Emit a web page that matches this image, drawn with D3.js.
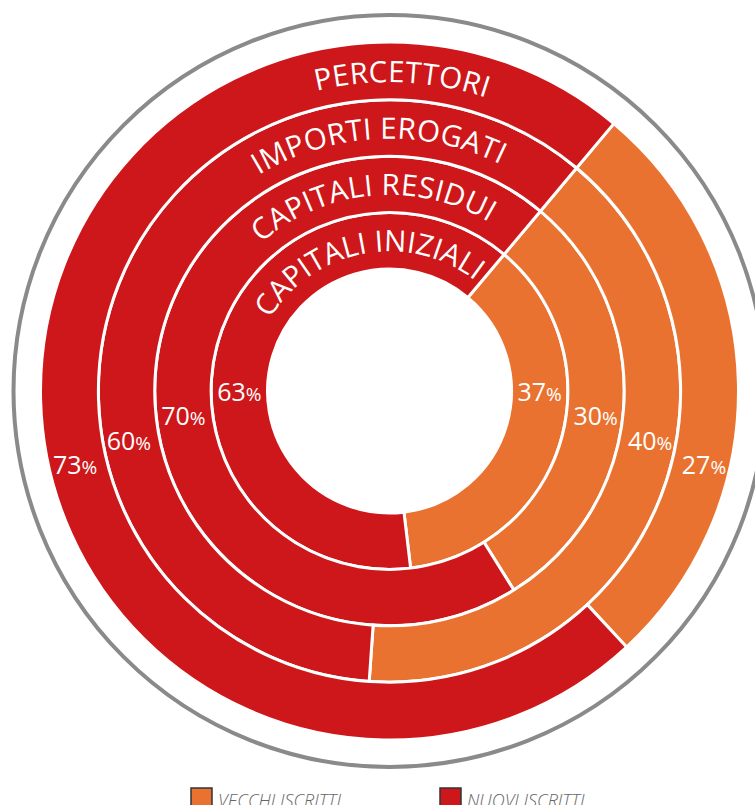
<!DOCTYPE html>
<html>
<head>
<meta charset="utf-8">
<script src="https://cdn.jsdelivr.net/npm/d3@7"></script>
<style>
  body { margin: 0; background: #fff; }
  svg { display: block; font-family: "Open Sans", sans-serif; }
</style>
</head>
<body>
<div id="chart"></div>
<script>
// Data, inner ring first
var rings = ["CAPITALI INIZIALI", "CAPITALI RESIDUI", "IMPORTI EROGATI", "PERCETTORI"];
var vecchi = [37, 30, 40, 27];
var nuovi = [63, 70, 60, 73];
var series = ["VECCHI ISCRITTI", "NUOVI ISCRITTI"];
var colors = ["#ea7230", "#cd171a"];

var width = 755, height = 805;
var cx = 389.5, cy = 391;

var svg = d3.select("#chart")
    .append("svg")
        .attr("width", width)
        .attr("height", height);

var g = svg.append("g")
    .attr("transform", "translate(" + cx + "," + cy + ")");

// radius scale: ring index -> inner radius
var r = d3.scaleLinear().domain([0, rings.length]).range([122, 347.5]);

// grey outer circle
g.append("circle")
    .attr("r", 376)
    .attr("fill", "none")
    .attr("stroke", "#8a8a8a")
    .attr("stroke-width", 4);

var pie = d3.pie()
    .sort(null)
    .startAngle(40 * Math.PI / 180)
    .endAngle(40 * Math.PI / 180 + 2 * Math.PI);

rings.forEach(function(name, i){
    var vals = [vecchi[i], nuovi[i]];
    var arc = d3.arc()
        .innerRadius(r(i))
        .outerRadius(i == rings.length - 1 ? r(i + 1) + 1.5 : r(i + 1));

    g.append("g").attr("class", "ring")
        .selectAll("path")
        .data(pie(vals))
        .enter()
        .append("path")
            .attr("d", arc)
            .attr("fill", (d, j) => colors[j])
            .attr("stroke", "#fff")
            .attr("stroke-width", 3);
});

// curved ring titles
var titleShift = [-10.5, -5.2, -2.5, 2.3];
var defs = svg.append("defs");
rings.forEach(function(name, i){
    var rb = (r(i) + r(i + 1)) / 2 - 10.5;
    defs.append("path")
        .attr("id", "tp" + i)
        .attr("d", "M" + (-rb) + ",0 A" + rb + "," + rb + " 0 0 1 " + rb + ",0");

    g.append("g")
        .attr("transform", "rotate(" + titleShift[i] + ")")
        .append("text")
            .attr("fill", "#fff")
            .attr("font-size", 29.5)
            .attr("font-weight", 500)
            .attr("letter-spacing", i == 0 ? 0 : 0.3)
            .attr("text-anchor", "middle")
        .append("textPath")
            .attr("href", "#tp" + i)
            .attr("startOffset", "50%")
            .text(name);
});

// percent labels
rings.forEach(function(name, i){
    var rm = (r(i) + r(i + 1)) / 2 + i * 1.5;
    var dy = 4 + i * 24.4;
    var dx = Math.sqrt(rm * rm - dy * dy);
    [[-dx, nuovi[i]], [dx, vecchi[i]]].forEach(function(p){
        var t = g.append("text")
            .attr("x", p[0])
            .attr("y", dy)
            .attr("dy", "0.36em")
            .attr("text-anchor", "middle")
            .attr("fill", "#fff");
        t.append("tspan").attr("font-size", 25).text(p[1]);
        t.append("tspan").attr("font-size", 19).text("%");
    });
});

// legend
var legend = svg.selectAll(".legend")
    .data(series)
    .enter().append("g")
    .attr("class", "legend")
    .attr("transform", (d, i) => "translate(" + (191 + i * 249) + ",788)");

legend.append("rect")
    .attr("width", 21)
    .attr("height", 21)
    .attr("fill", (d, i) => colors[i])
    .attr("stroke", "#333")
    .attr("stroke-width", 1.5);

legend.append("text")
    .attr("x", 27)
    .attr("y", 19)
    .attr("font-size", 18)
    .attr("font-style", "italic")
    .attr("font-weight", 300)
    .attr("fill", "#666")
    .text(d => d);
</script>
</body>
</html>
